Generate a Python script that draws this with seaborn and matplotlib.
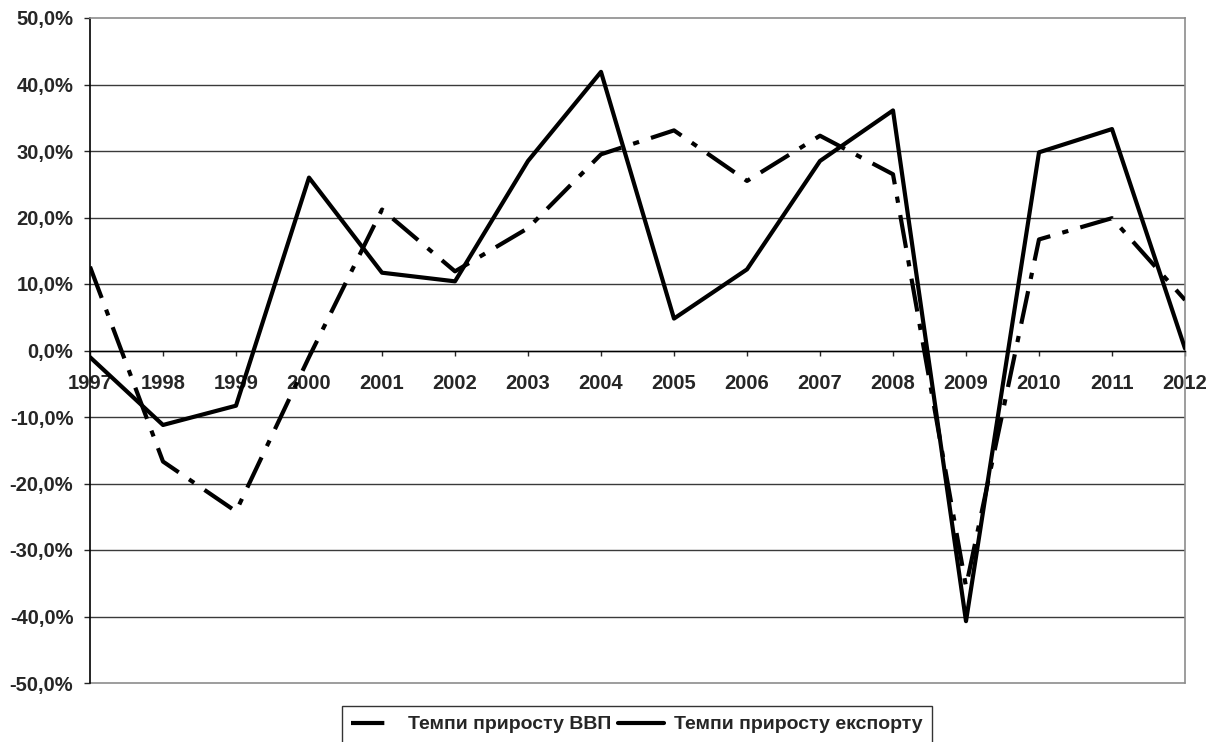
import numpy as np
import pandas as pd
import matplotlib
matplotlib.use("Agg")
import matplotlib.pyplot as plt
from matplotlib.lines import Line2D
from matplotlib.ticker import FuncFormatter, MultipleLocator
import seaborn as sns

# values (%)
years = [1997, 1998, 1999, 2000, 2001, 2002, 2003, 2004,
         2005, 2006, 2007, 2008, 2009, 2010, 2011, 2012]
gdp_growth = [12.6, -16.7, -24.2, -1.0, 21.2, 11.9, 18.4, 29.5,
              33.1, 25.5, 32.3, 26.5, -35.5, 16.7, 19.9, 7.6]
export_growth = [-1.0, -11.2, -8.3, 26.0, 11.7, 10.4, 28.5, 41.9,
                 4.8, 12.2, 28.5, 36.1, -40.7, 29.8, 33.3, 0.3]
series_labels = ["Темпи приросту ВВП", "Темпи приросту експорту"]

df = pd.DataFrame({"year": years, "gdp": gdp_growth, "export": export_growth})

sns.set_style("white")
plt.rcParams["font.family"] = ["Liberation Sans", "DejaVu Sans"]
plt.rcParams["font.weight"] = "bold"

W, H = 1213, 742
fig = plt.figure(figsize=(W / 100, H / 100), dpi=100)
ax = fig.add_axes([90 / W, 1 - 683 / H, (1185 - 90) / W, (683 - 18) / H])

# grid (drawn first so the series sit on top)
for v in range(-40, 50, 10):
    ax.axhline(v, color="#3a3a3a", lw=1.0, zorder=1)
ax.axhline(-50, color="#8c8c8c", lw=1.2, zorder=1, clip_on=False)

sns.lineplot(data=df, x="year", y="gdp", ax=ax, color="black", lw=3.0,
             linestyle=(0, (8, 3, 1.5, 3)), zorder=3)
sns.lineplot(data=df, x="year", y="export", ax=ax, color="black", lw=3.0,
             zorder=4)

ax.set_xlim(years[0], years[-1])
ax.set_ylim(-50, 50)
ax.set_xlabel("")
ax.set_ylabel("")

ax.set_xticks(years)
ax.set_xticklabels([str(y) for y in years])
ax.yaxis.set_major_locator(MultipleLocator(10))
ax.yaxis.set_major_formatter(
    FuncFormatter(lambda v, _: f"{v:.1f}%".replace(".", ",")))

ax.spines["bottom"].set_position(("data", 0))
ax.spines["bottom"].set_color("black")
ax.spines["bottom"].set_linewidth(1.0)
ax.spines["left"].set_color("black")
ax.spines["left"].set_linewidth(1.2)
for side in ["top", "right"]:
    ax.spines[side].set_visible(True)
    ax.spines[side].set_color("#8c8c8c")
    ax.spines[side].set_linewidth(1.2)

ax.tick_params(axis="y", direction="out", length=4, width=1, pad=8,
               labelsize=14.5, left=True)
ax.tick_params(axis="x", direction="out", length=3.5, width=1, pad=13.5,
               labelsize=14.5, bottom=True)
for lbl in ax.get_xticklabels() + ax.get_yticklabels():
    lbl.set_fontweight("bold")

# legend: the dashed entry shows a single long dash, like the original
handles = [
    Line2D([], [], color="black", lw=3.0, linestyle=(0, (8, 30))),
    Line2D([], [], color="black", lw=3.0),
]
leg = fig.legend(handles, series_labels, loc="upper center", ncol=2,
                 bbox_to_anchor=(637 / W, 1 - 706 / H), borderaxespad=0,
                 frameon=True, fancybox=False, shadow=False,
                 handlelength=2.4, handletextpad=0.5, columnspacing=0.35,
                 borderpad=0.5, prop={"size": 14, "weight": "bold"})
leg.get_frame().set_edgecolor("black")
leg.get_frame().set_linewidth(1.0)

fig.savefig("out.png", dpi=100, facecolor="white")
